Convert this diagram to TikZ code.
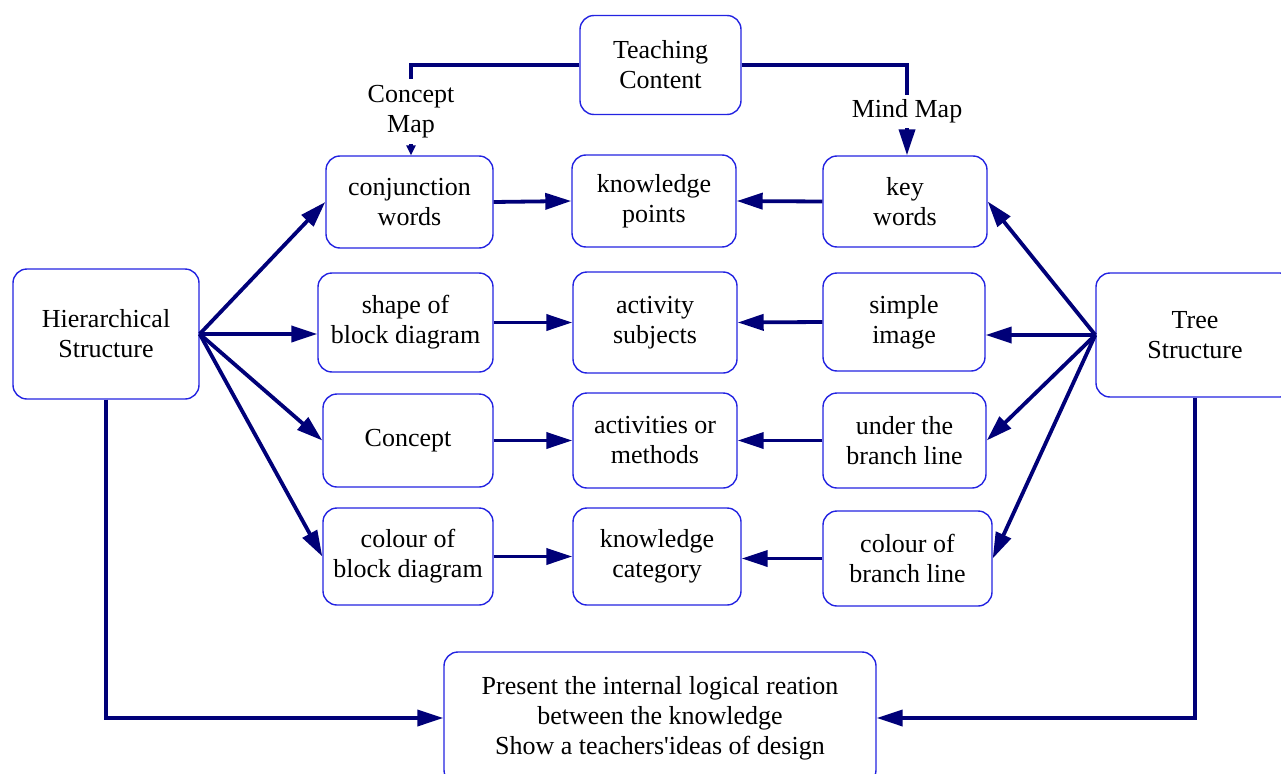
\documentclass[tikz,border=0pt]{standalone}
\usepackage{fontspec}
\setmainfont{Liberation Serif}
\usetikzlibrary{arrows.meta}
\definecolor{boxblue}{RGB}{35,35,225}
\definecolor{linkblue}{RGB}{0,0,120}

\begin{document}
\begin{tikzpicture}[x=1pt,y=-1pt,
		box/.style={draw=boxblue, line width=1.4pt, rounded corners=14pt, align=center, inner sep=0pt, font=\fontsize{26}{30}\selectfont},
		lbl/.style={align=center, inner xsep=2pt, font=\fontsize{26}{30}\selectfont},
		wire/.style={draw=linkblue, line width=3.8pt},
		link/.style={wire, -{Triangle[length=26pt 0 0,width=16pt 0 0]}},
		smalllink/.style={wire, -{Triangle[length=10pt 0 0,width=9pt 0 0]}}]
		%%%%% START %%%%%
		
		\useasboundingbox (0,0) rectangle (1281,773);
		
		% top
		\node[box, minimum width=161pt, minimum height=99pt] (tc) at (660.5, 65) {Teaching\\Content};
		\node[lbl, inner ysep=6pt] (cm) at (411, 111.5) {Concept\\Map};
		\node[lbl, inner ysep=5pt] (mm) at (907, 111.5) {Mind Map};
		
		% left column
		\node[box, minimum width=186pt, minimum height=130pt] (hs) at (106, 334) {Hierarchical\\Structure};
		
		% concept map column
		\node[box, minimum width=167pt, minimum height=92pt] (cw) at (409.5, 202) {conjunction\\words};
		\node[box, minimum width=175pt, minimum height=99pt] (sb) at (405.5, 322.5) {shape of\\block diagram};
		\node[box, minimum width=170pt, minimum height=93pt] (co) at (408, 440.5) {Concept};
		\node[box, minimum width=170pt, minimum height=97pt] (cb) at (408, 556.5) {colour of\\block diagram};
		
		% middle column
		\node[box, minimum width=164pt, minimum height=92pt] (kp) at (654, 201) {knowledge\\points};
		\node[box, minimum width=164pt, minimum height=101pt] (as) at (655, 322.5) {activity\\subjects};
		\node[box, minimum width=164pt, minimum height=95pt] (am) at (655, 440.5) {activities or\\methods};
		\node[box, minimum width=168pt, minimum height=97pt] (kc) at (657, 556.5) {knowledge\\category};
		
		% mind map column
		\node[box, minimum width=164pt, minimum height=91pt] (kw) at (905, 201.5) {key\\words};
		\node[box, minimum width=162pt, minimum height=98pt] (si) at (904, 322) {simple\\image};
		\node[box, minimum width=163pt, minimum height=95pt] (ub) at (904.5, 440.5) {under the\\branch line};
		\node[box, minimum width=169pt, minimum height=95pt] (cl) at (907.5, 558.5) {colour of\\branch line};
		
		% right column
		\node[box, minimum width=198pt, minimum height=124pt] (ts) at (1195, 335) {Tree\\Structure};
		
		% bottom
		\node[box, minimum width=432pt, minimum height=132pt] (pr) at (660, 718) {Present the internal logical reation\\between the knowledge\\Show a teachers\textquotesingle ideas of design};
		
		% teaching content split
		\draw[wire] (tc.west) -| (cm.north);
		\draw[smalllink] (cm.south) -- (cm.south |- cw.north);
		\draw[wire] (tc.east) -| (mm.north);
		\draw[link] (mm.south) -- (mm.south |- kw.north);
		
		% hierarchical fan
		\draw[link] (hs.east) -- (cw.west);
		\draw[link] (hs.east) -- (hs.east -| sb.west);
		\draw[link] (hs.east) -- (co.west);
		\draw[link] (hs.east) -- (cb.west);
		
		% tree fan
		\draw[link] (ts.west) -- (kw.east);
		\draw[link] (ts.west) -- (ts.west -| si.east);
		\draw[link] (ts.west) -- (ub.east);
		\draw[link] (ts.west) -- (cl.east);
		
		% into the middle
		\draw[link] (cw.east) -- (kp.west);
		\draw[link] (sb.east) -- (as.west);
		\draw[link] (co.east) -- (am.west);
		\draw[link] (cb.east) -- (kc.west);
		\draw[link] (kw.west) -- (kp.east);
		\draw[link] (si.west) -- (as.east);
		\draw[link] (ub.west) -- (am.east);
		\draw[link] (cl.west) -- (cl.west -| kc.east);
		
		% down to the result
		\draw[link] (hs.south) |- (pr.west);
		\draw[link] (ts.south) |- (pr.east);
		
		%%%%% END %%%%%
	\end{tikzpicture}
\end{document}
